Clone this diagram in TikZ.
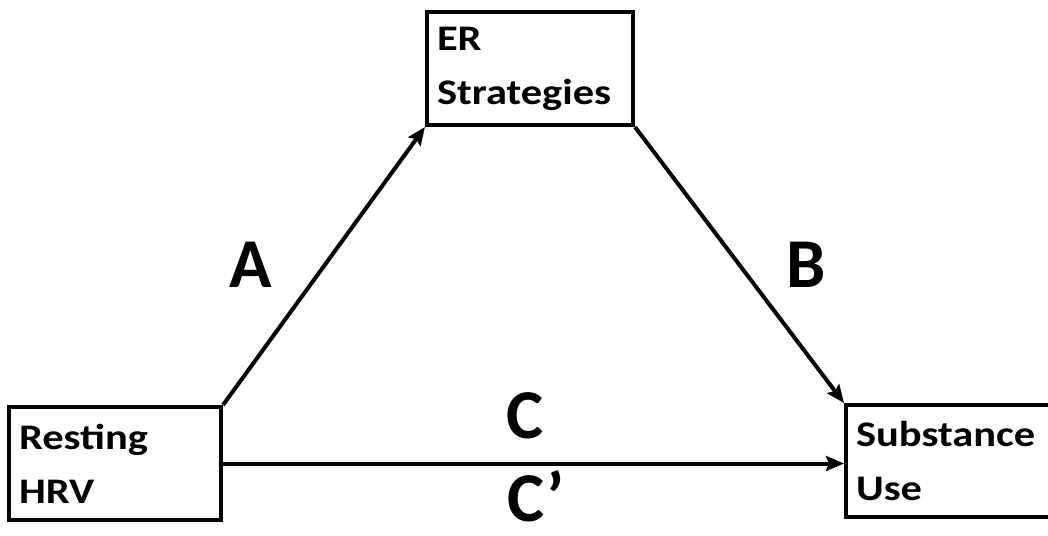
\documentclass[tikz,border=0pt]{standalone}
\usepackage{fontspec}
\setmainfont{Carlito}
\newfontfamily\boxfont{Carlito}[FakeStretch=1.18]
\usetikzlibrary{arrows.meta,positioning}

\begin{document}
\begin{tikzpicture}[
x=1pt,y=-1pt,
varbox/.style={draw=black,line width=4pt,anchor=north west,align=left,inner xsep=10pt,font=\boxfont\fontsize{36}{54}\selectfont\bfseries},
pathlabel/.style={font=\fontsize{70}{70}\selectfont\bfseries,inner sep=0pt,anchor=base},
arrow/.style={-{Stealth[length=18pt,width=15pt,inset=3pt]},line width=4pt,draw=black}
]
\useasboundingbox (0,0) rectangle (1048,535);

\node[varbox,minimum width=212pt,minimum height=113pt,text width=192pt] (hrv) at (7,405) {Resting\\HRV};
\node[varbox,minimum width=206pt,minimum height=113pt,text width=186pt] (er) at (425,10) {ER\\Strategies};
\node[varbox,minimum width=214pt,minimum height=112pt,text width=194pt] (use) at (844,403) {Substance\\Use};

\node[pathlabel] (a) at (251,287) {A};
\node[pathlabel] (b) at (806,287) {B};
\node[pathlabel] (c) at (525,438) {C};
\node[pathlabel] (cp) at (536,521) {C’};

\draw[arrow] (hrv.north east) -- (er.south west);
\draw[arrow] (er.south east) -- (use.north west);
\draw[arrow] (hrv.east) -- (hrv.east -| use.west);
\end{tikzpicture}
\end{document}
